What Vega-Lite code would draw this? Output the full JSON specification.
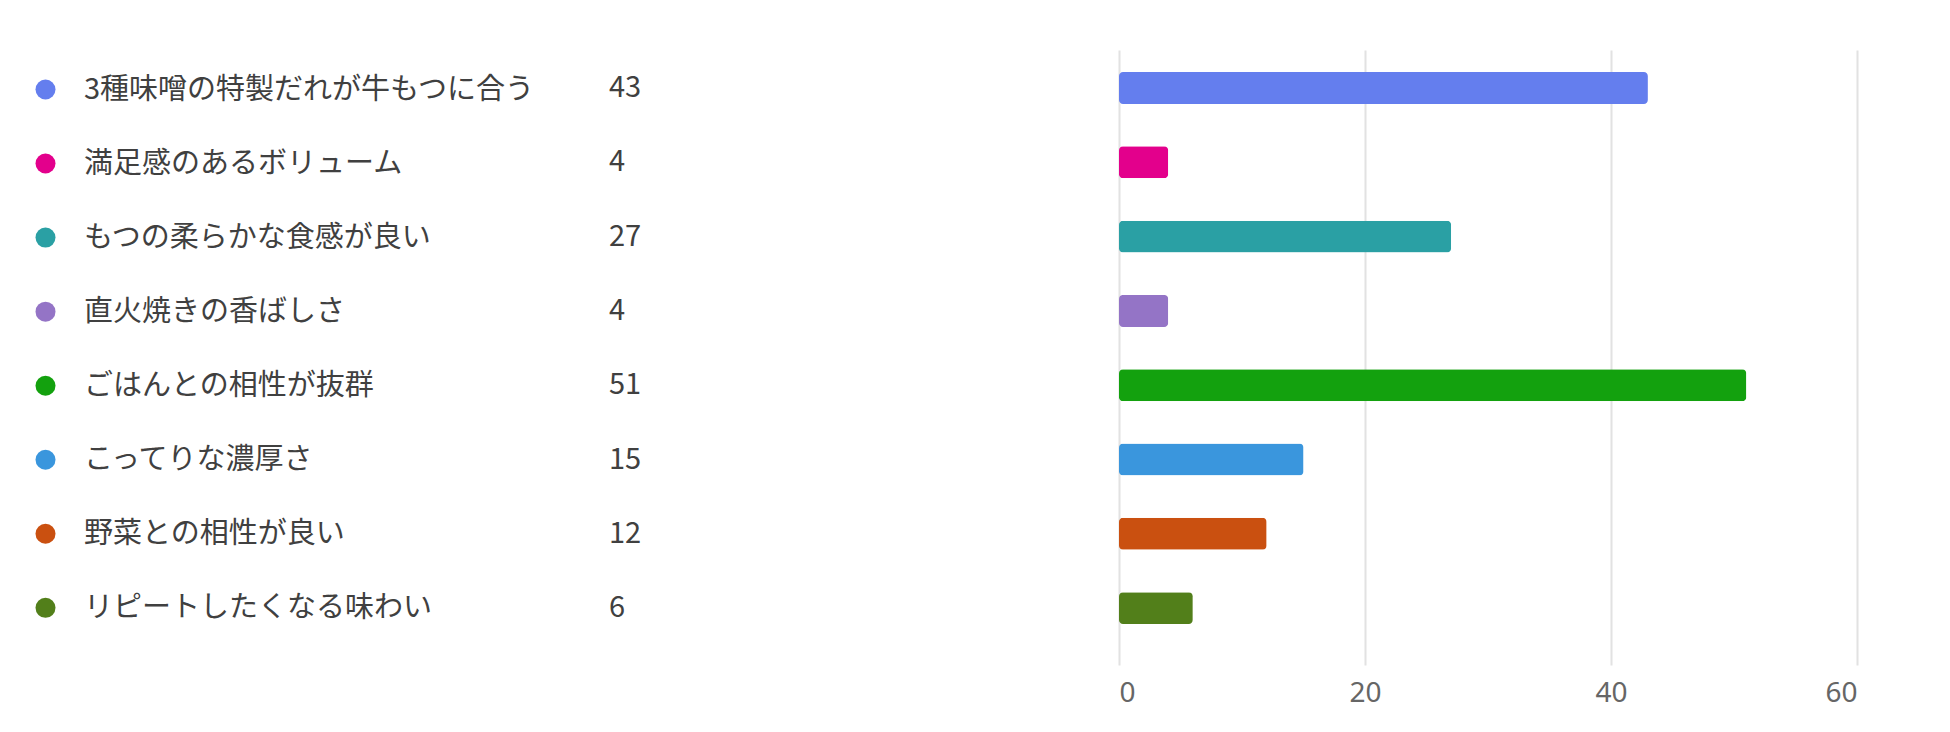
{
  "$schema": "https://vega.github.io/schema/vega-lite/v6.json",
  "background": "white",
  "autosize": {"type": "pad"},
  "padding": {"left": 31, "top": 50, "right": 5, "bottom": 5},
  "config": {"view": {"stroke": null}, "font": "Noto Sans CJK JP"},
  "data": {
    "values": [
      {"name": "3種味噌の特製だれが牛もつに合う", "count": 43},
      {"name": "満足感のあるボリューム", "count": 4},
      {"name": "もつの柔らかな食感が良い", "count": 27},
      {"name": "直火焼きの香ばしさ", "count": 4},
      {"name": "ごはんとの相性が抜群", "count": 51},
      {"name": "こってりな濃厚さ", "count": 15},
      {"name": "野菜との相性が良い", "count": 12},
      {"name": "リピートしたくなる味わい", "count": 6}
    ]
  },
  "bounds": "flush",
  "spacing": 500,
  "hconcat": [
    {
      "width": 20,
      "height": 615,
      "mark": {"type": "text", "align": "left", "baseline": "middle", "fontSize": 29, "color": "#404040", "font": "Noto Sans CJK JP"},
      "encoding": {
        "y": {"field": "name", "type": "nominal", "sort": null, "axis": null,
              "scale": {"type": "band", "paddingInner": 0.57, "paddingOuter": 0.4235, "align": 0.35}},
        "text": {"field": "count", "type": "quantitative"}
      }
    },
    {
      "width": 738,
      "height": 615,
      "mark": {"type": "bar", "cornerRadius": 4},
      "encoding": {
        "y": {"field": "name", "type": "nominal", "sort": null, "axis": null,
              "scale": {"type": "band", "paddingInner": 0.57, "paddingOuter": 0.4235, "align": 0.35}},
        "x": {"field": "count", "type": "quantitative",
              "scale": {"domain": [0, 60], "nice": false},
              "axis": {"values": [0, 20, 40, 60], "title": null, "domain": false, "ticks": false,
                       "grid": true, "gridColor": "#e2e2e2", "gridWidth": 2,
                       "labelFontSize": 28, "labelColor": "#666666", "labelPadding": 14,
                       "labelFont": "Noto Sans"}},
        "color": {"field": "name", "type": "nominal", "sort": null,
                  "scale": {"range": ["#647EEE", "#E3008C", "#2AA0A4", "#9474C6", "#13A10E", "#3A96DD", "#CA5010", "#527F1A"]},
                  "legend": {"orient": "none", "legendX": -568, "legendY": 25, "title": null,
                             "symbolType": "circle", "symbolSize": 400, "symbolStrokeWidth": 0, "symbolOpacity": 1,
                             "labelFontSize": 29, "labelColor": "#404040", "labelFont": "Noto Sans CJK JP",
                             "labelOffset": 24, "labelLimit": 0, "rowPadding": 44.05, "padding": 0}}
      }
    }
  ]
}
